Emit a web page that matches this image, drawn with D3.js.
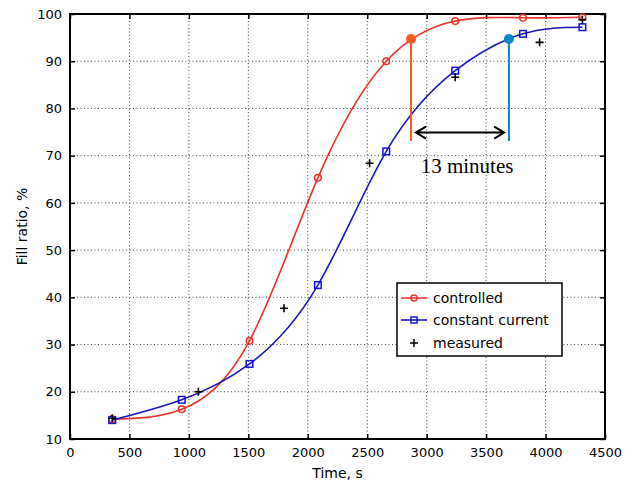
<!DOCTYPE html>
<html>
<head>
<meta charset="utf-8">
<script src="https://cdn.jsdelivr.net/npm/d3@7"></script>
<style>
  body { margin: 0; background: #fff; }
  svg text { font-family: "DejaVu Sans", Verdana, sans-serif; }
</style>
</head>
<body>
<div id="chart"></div>
<script>
var times = [355, 940, 1510, 2085, 2660, 3240, 3810, 4310],
controlled = [14.2, 16.3, 30.8, 65.3, 90.0, 98.5, 99.2, 99.3],
constantCurrent = [14.0, 18.3, 25.9, 42.6, 70.9, 88.0, 95.8, 97.2],
measuredTimes = [355, 1080, 1800, 2520, 3240, 3950, 4310],
measured = [14.4, 20.0, 37.7, 68.4, 86.6, 94.0, 98.8],
xTicks = [0, 500, 1000, 1500, 2000, 2500, 3000, 3500, 4000, 4500],
yTicks = [10, 20, 30, 40, 50, 60, 70, 80, 90, 100],
// annotation: times where both reach ~95 %
markTimes = [2868, 3692],
markLevel = 94.7,
legendLabels = ['controlled', 'constant current', 'measured'];

var W = 635, H = 485,
pL = 70, pR = 605, pT = 14, pB = 439;

var svg = d3.select('#chart').append('svg').
attr('width', W).
attr('height', H);

var x = d3.scaleLinear().domain([0, 4500]).range([pL, pR]);
var y = d3.scaleLinear().domain([10, 100]).range([pB, pT]);

// grid
svg.append('g').selectAll('line').
data(xTicks.slice(1, -1)).
enter().append('line').
attr('x1', d => x(d)).attr('x2', d => x(d)).
attr('y1', pT).attr('y2', pB).
attr('stroke', '#444').attr('stroke-width', 1).attr('stroke-dasharray', '1,2.5');

svg.append('g').selectAll('line').
data(yTicks.slice(1, -1)).
enter().append('line').
attr('y1', d => y(d)).attr('y2', d => y(d)).
attr('x1', pL).attr('x2', pR).
attr('stroke', '#444').attr('stroke-width', 1).attr('stroke-dasharray', '1,2.5');

// axes
svg.append('g').
attr('transform', 'translate(0,' + pB + ')').
call(d3.axisBottom(x).tickValues(xTicks).tickFormat(d3.format('d')).tickSizeInner(-5).tickSizeOuter(0).tickPadding(9));
svg.append('g').
attr('transform', 'translate(' + pL + ',0)').
call(d3.axisLeft(y).tickValues(yTicks).tickFormat(d3.format('d')).tickSizeInner(-5).tickSizeOuter(0).tickPadding(8));
svg.append('g').
attr('transform', 'translate(0,' + pT + ')').
call(d3.axisTop(x).tickValues(xTicks).tickSizeInner(-5).tickSizeOuter(0).tickFormat(''));
svg.append('g').
attr('transform', 'translate(' + pR + ',0)').
call(d3.axisRight(y).tickValues(yTicks).tickSizeInner(-5).tickSizeOuter(0).tickFormat(''));

svg.selectAll('.domain').remove();
svg.selectAll('.tick line').attr('stroke', '#000').attr('stroke-width', 1.5);
svg.selectAll('.tick text').attr('font-size', 13).attr('fill', '#000').
style('font-family', '"DejaVu Sans", Verdana, sans-serif');

svg.append('rect').
attr('x', pL).attr('y', pT).
attr('width', pR - pL).attr('height', pB - pT).
attr('fill', 'none').attr('stroke', '#000').attr('stroke-width', 2);

svg.append('text').
attr('x', (pL + pR) / 2).attr('y', 478).
attr('text-anchor', 'middle').attr('font-size', 14).
text('Time, s');

svg.append('text').
attr('transform', 'translate(27,' + (pT + pB) / 2 + ') rotate(-90)').
attr('text-anchor', 'middle').attr('font-size', 14).
text('Fill ratio, %');

// curves
var line = d3.line().
x(d => x(d[0])).
y(d => y(d[1])).
curve(d3.curveNatural);

var redData = times.map((t, i) => [t, controlled[i]]);
var blueData = times.map((t, i) => [t, constantCurrent[i]]);
var red = '#e8322b', blue = '#1818b8';

svg.append('path').datum(redData).
attr('d', line).attr('fill', 'none').attr('stroke', red).attr('stroke-width', 1.6);
svg.append('path').datum(blueData).
attr('d', line).attr('fill', 'none').attr('stroke', blue).attr('stroke-width', 1.6);

svg.append('g').selectAll('circle').
data(redData).enter().append('circle').
attr('cx', d => x(d[0])).attr('cy', d => y(d[1])).attr('r', 3.3).
attr('fill', 'none').attr('stroke', red).attr('stroke-width', 1.5);

svg.append('g').selectAll('rect').
data(blueData).enter().append('rect').
attr('x', d => x(d[0]) - 3.3).attr('y', d => y(d[1]) - 3.3).
attr('width', 6.6).attr('height', 6.6).
attr('fill', 'none').attr('stroke', '#1010d8').attr('stroke-width', 1.5);

svg.append('g').selectAll('path').
data(measuredTimes.map((t, i) => [t, measured[i]])).enter().append('path').
attr('d', 'M-4,0H4M0,-4V4').
attr('transform', d => 'translate(' + x(d[0]) + ',' + y(d[1]) + ')').
attr('stroke', '#000').attr('stroke-width', 1.6);

// annotation
var markColors = ['#ff5a1e', '#0a86c8'];
var ann = svg.append('g');
ann.selectAll('line').
data(markTimes).enter().append('line').
attr('x1', d => x(d)).attr('x2', d => x(d)).
attr('y1', y(markLevel)).attr('y2', y(73.1)).
attr('stroke', (d, i) => markColors[i]).attr('stroke-width', 2);
ann.selectAll('circle').
data(markTimes).enter().append('circle').
attr('cx', d => x(d)).attr('cy', y(markLevel)).attr('r', 5).
attr('fill', (d, i) => markColors[i]);

var ax0 = x(2910), ax1 = x(3652), ay = y(74.9);
ann.append('path').
attr('d', 'M' + ax0 + ',' + ay + 'H' + ax1 +
'M' + (ax0 + 10) + ',' + (ay - 6) + 'L' + ax0 + ',' + ay + 'L' + (ax0 + 10) + ',' + (ay + 6) +
'M' + (ax1 - 10) + ',' + (ay - 6) + 'L' + ax1 + ',' + ay + 'L' + (ax1 - 10) + ',' + (ay + 6)).
attr('fill', 'none').attr('stroke', '#000').attr('stroke-width', 2);

ann.append('text').
attr('x', x(3340)).attr('y', y(66.4)).
attr('text-anchor', 'middle').
style('font-family', '"Liberation Serif", "Times New Roman", serif').
attr('font-size', 21).
text('13 minutes');

// legend
var lg = svg.append('g');
lg.append('rect').
attr('x', 397).attr('y', 283).attr('width', 165).attr('height', 73).
attr('fill', '#fff').attr('stroke', '#000').attr('stroke-width', 1.5);
var rows = lg.selectAll('g').data(legendLabels).enter().append('g').
attr('transform', (d, i) => 'translate(0,' + [298, 320, 343][i] + ')');
rows.append('text').
attr('x', 433).attr('y', 0).attr('dy', '0.35em').attr('font-size', 14).
text(d => d);
rows.filter((d, i) => i < 2).append('line').
attr('x1', 401).attr('x2', 427).
attr('stroke', (d, i) => [red, blue][i]).attr('stroke-width', 1.6);
rows.filter((d, i) => i === 0).append('circle').
attr('cx', 414).attr('r', 3).attr('fill', 'none').attr('stroke', red).attr('stroke-width', 1.5);
rows.filter((d, i) => i === 1).append('rect').
attr('x', 411).attr('y', -3).attr('width', 6).attr('height', 6).
attr('fill', 'none').attr('stroke', '#1010d8').attr('stroke-width', 1.5);
rows.filter((d, i) => i === 2).append('path').
attr('d', 'M410,0H418M414,-4V4').attr('stroke', '#000').attr('stroke-width', 1.5);
</script>
</body>
</html>
